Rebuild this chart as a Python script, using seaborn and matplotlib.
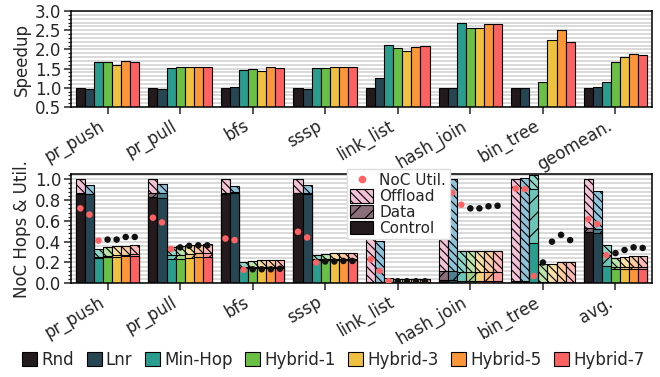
import numpy as np
import pandas as pd
import matplotlib
matplotlib.use("Agg")
import matplotlib.pyplot as plt
from matplotlib.ticker import AutoMinorLocator, MultipleLocator
from matplotlib.patches import Patch
from matplotlib.lines import Line2D
import seaborn as sns

# ---------------------------------------------------------------- data
methods = ["Rnd", "Lnr", "Min-Hop", "Hybrid-1", "Hybrid-3", "Hybrid-5", "Hybrid-7"]
speedup_labels = ["pr_push", "pr_pull", "bfs", "sssp", "link_list", "hash_join", "bin_tree", "geomean."]
traffic_labels = ["pr_push", "pr_pull", "bfs", "sssp", "link_list", "hash_join", "bin_tree", "avg."]

speedup = {
    "Rnd":      [1.00, 1.00, 1.00, 1.00, 1.00, 1.00, 1.00, 1.00],
    "Lnr":      [0.96, 0.98, 1.03, 0.96, 1.26, 1.00, 0.99, 1.03],
    "Min-Hop":  [1.67, 1.52, 1.46, 1.51, 2.11, 2.68, np.nan, 1.15],
    "Hybrid-1": [1.66, 1.53, 1.49, 1.51, 2.03, 2.57, 1.16, 1.66],
    "Hybrid-3": [1.60, 1.53, 1.44, 1.53, 1.96, 2.57, 2.24, 1.80],
    "Hybrid-5": [1.69, 1.55, 1.53, 1.53, 2.06, 2.65, 2.51, 1.89],
    "Hybrid-7": [1.67, 1.55, 1.52, 1.53, 2.09, 2.66, 2.18, 1.85],
}

# NoC hop breakdown (segment heights) and NoC utilisation
control = {
    "Rnd":      [0.860, 0.830, 0.860, 0.865, 0.005, 0.030, 0.015, 0.490],
    "Lnr":      [0.855, 0.820, 0.870, 0.860, 0.005, 0.030, 0.015, 0.485],
    "Min-Hop":  [0.240, 0.230, 0.150, 0.220, 0.005, 0.020, 0.390, 0.165],
    "Hybrid-1": [0.250, 0.235, 0.150, 0.220, 0.005, 0.020, 0.005, 0.140],
    "Hybrid-3": [0.255, 0.245, 0.150, 0.220, 0.005, 0.020, 0.005, 0.140],
    "Hybrid-5": [0.260, 0.250, 0.150, 0.220, 0.005, 0.020, 0.005, 0.140],
    "Hybrid-7": [0.265, 0.255, 0.150, 0.220, 0.005, 0.020, 0.005, 0.140],
}
data_hops = {
    "Rnd":      [0.005, 0.040, 0.005, 0.005, 0.005, 0.090, 0.005, 0.040],
    "Lnr":      [0.005, 0.045, 0.005, 0.005, 0.005, 0.090, 0.005, 0.035],
    "Min-Hop":  [0.015, 0.040, 0.010, 0.010, 0.010, 0.090, 0.520, 0.105],
    "Hybrid-1": [0.015, 0.040, 0.010, 0.010, 0.010, 0.090, 0.010, 0.015],
    "Hybrid-3": [0.015, 0.040, 0.010, 0.010, 0.010, 0.090, 0.010, 0.015],
    "Hybrid-5": [0.015, 0.040, 0.010, 0.010, 0.010, 0.090, 0.010, 0.015],
    "Hybrid-7": [0.015, 0.040, 0.010, 0.010, 0.010, 0.090, 0.010, 0.015],
}
offload = {
    "Rnd":      [0.135, 0.130, 0.135, 0.130, 0.460, 0.880, 0.980, 0.470],
    "Lnr":      [0.085, 0.085, 0.060, 0.075, 0.400, 0.880, 0.990, 0.365],
    "Min-Hop":  [0.075, 0.075, 0.040, 0.045, 0.035, 0.200, 0.130, 0.095],
    "Hybrid-1": [0.080, 0.080, 0.055, 0.050, 0.030, 0.200, 0.170, 0.090],
    "Hybrid-3": [0.090, 0.085, 0.065, 0.060, 0.030, 0.200, 0.175, 0.100],
    "Hybrid-5": [0.085, 0.080, 0.065, 0.060, 0.030, 0.200, 0.185, 0.110],
    "Hybrid-7": [0.085, 0.080, 0.065, 0.060, 0.030, 0.200, 0.185, 0.105],
}
noc_util = {
    "Rnd":      [0.720, 0.630, 0.430, 0.495, 0.230, 0.870, 0.910, 0.615],
    "Lnr":      [0.660, 0.585, 0.415, 0.440, 0.120, 0.870, 0.905, 0.570],
    "Min-Hop":  [0.410, 0.330, 0.130, 0.200, 0.020, 0.755, 0.070, 0.270],
    "Hybrid-1": [0.420, 0.345, 0.135, 0.210, 0.020, 0.720, 0.200, 0.290],
    "Hybrid-3": [0.420, 0.360, 0.135, 0.210, 0.020, 0.720, 0.400, 0.320],
    "Hybrid-5": [0.445, 0.365, 0.135, 0.215, 0.020, 0.740, 0.465, 0.345],
    "Hybrid-7": [0.445, 0.365, 0.140, 0.215, 0.020, 0.745, 0.415, 0.340],
}

# ---------------------------------------------------------------- colours
main_colors = ["#231a1e", "#264653", "#2a9d8f", "#6abf45", "#f0c040", "#fb963a", "#fc6262"]
data_colors = ["#8a6f7a", "#4f7f91", "#6cc5b6", "#a0d585", "#f5d27e", "#fcb67a", "#fd9a9a"]
offload_colors = ["#f4c2d6", "#8ec3d9", "#8fd8c9", "#bde4a8", "#f8dea2", "#fdcba0", "#fdb8b8"]
util_red = "#ff6262"

# ---------------------------------------------------------------- frames
rows = []
for m in methods:
    for i, b in enumerate(traffic_labels):
        c, d, o = control[m][i], data_hops[m][i], offload[m][i]
        rows.append(dict(bench=b, method=m, control=c, ctrl_data=c + d,
                         total=c + d + o, util=noc_util[m][i],
                         speedup=speedup[m][i], sp_bench=speedup_labels[i]))
df = pd.DataFrame(rows)

# ---------------------------------------------------------------- style
sns.set_style("ticks")
plt.rcParams.update({
    "font.family": ["DejaVu Sans"],
    "font.size": 12,
    "axes.linewidth": 1.1,
    "hatch.linewidth": 0.8,
    "xtick.major.width": 1.1,
    "ytick.major.width": 1.1,
    "ytick.minor.width": 0.9,
    "xtick.major.size": 5,
    "ytick.major.size": 5,
    "ytick.minor.size": 2.5,
})

fig = plt.figure(figsize=(6.6, 3.77), dpi=100)
ax1 = fig.add_axes([0.108, 0.7162, 0.8795, 0.2546])
ax2 = fig.add_axes([0.108, 0.2485, 0.8795, 0.2900])

bar_kw = dict(hue="method", hue_order=methods, width=0.875, saturation=1,
              errorbar=None, edgecolor="black", linewidth=0.8, legend=False)

# ---------------------------------------------------------------- speedup
sns.barplot(data=df, x="sp_bench", y="speedup", order=speedup_labels,
            palette=main_colors, ax=ax1, zorder=2, **bar_kw)
ax1.set_ylim(0.5, 3.0)
ax1.set_xlim(-0.5, 7.5)
ax1.yaxis.set_major_locator(MultipleLocator(0.5))
ax1.yaxis.set_minor_locator(AutoMinorLocator(5))
ax1.set_ylabel("Speedup", fontsize=12, labelpad=3)
ax1.set_xlabel("")

# ---------------------------------------------------------------- NoC hops
layers = [("total", offload_colors, "\\\\\\\\"),
          ("ctrl_data", data_colors, "//"),
          ("control", main_colors, None)]
bar_centers = None
for col, pal, hatch in layers:
    sns.barplot(data=df, x="bench", y=col, order=traffic_labels,
                palette=pal, ax=ax2, zorder=2, **bar_kw)
    conts = ax2.containers[-len(methods):]
    if bar_centers is None:
        bar_centers = {m: [p.get_x() + p.get_width() / 2 for p in cont]
                       for m, cont in zip(methods, conts)}
    if hatch:
        for cont in conts:
            for p in cont:
                p.set_hatch(hatch)

df["xpos"] = [bar_centers[m][traffic_labels.index(b)]
              for m, b in zip(df["method"], df["bench"])]
df["dot"] = np.where(df["method"].isin(["Rnd", "Lnr", "Min-Hop"]), "base", "hybrid")
sns.scatterplot(data=df, x="xpos", y="util", hue="dot",
                palette={"base": util_red, "hybrid": "#111111"},
                s=22, linewidth=0, ax=ax2, zorder=4, legend=False)

ax2.set_ylim(0, 1.05)
ax2.set_xlim(-0.5, 7.5)
ax2.yaxis.set_major_locator(MultipleLocator(0.2))
ax2.yaxis.set_minor_locator(AutoMinorLocator(5))
ax2.set_ylabel("NoC Hops & Util.", fontsize=12, labelpad=3)
ax2.set_xlabel("")

for ax, labels in ((ax1, speedup_labels), (ax2, traffic_labels)):
    ax.set_xticks(range(len(labels)))
    ax.set_xticklabels(labels, rotation=30, ha="right", fontsize=12)
    ax.tick_params(axis="y", labelsize=12, pad=2)
    ax.tick_params(axis="x", pad=2)
    ax.set_axisbelow(True)
    ax.grid(axis="y", which="both", color="#d0d0d0", linewidth=1.1, zorder=0)
    ax.grid(axis="x", visible=False)
    for s in ax.spines.values():
        s.set_visible(True)
        s.set_color("black")

# ---------------------------------------------------------------- legends
breakdown_handles = [
    Line2D([], [], marker="o", linestyle="none", color=util_red, markersize=4.5,
           label="NoC Util."),
    Patch(facecolor=offload_colors[0], edgecolor="black", hatch="\\\\\\\\",
          linewidth=0.8, label="Offload"),
    Patch(facecolor=data_colors[0], edgecolor="black", hatch="//",
          linewidth=0.8, label="Data"),
    Patch(facecolor=main_colors[0], edgecolor="black", linewidth=0.8,
          label="Control"),
]
leg2 = ax2.legend(handles=breakdown_handles, loc="upper left",
                  bbox_to_anchor=(0.525, 0.551), bbox_transform=fig.transFigure,
                  fontsize=11, labelspacing=0.05, handletextpad=0.4,
                  handlelength=1.5, handleheight=1.0, borderpad=0.25,
                  borderaxespad=0, frameon=True, fancybox=False)
leg2.get_frame().set_edgecolor("#dddddd")
leg2.get_frame().set_alpha(1)
leg2.set_zorder(10)

method_handles = [Patch(facecolor=c, edgecolor="black", linewidth=0.8, label=m)
                  for m, c in zip(methods, main_colors)]
fig.legend(handles=method_handles, loc="center", bbox_to_anchor=(0.505, 0.045),
           ncol=7, fontsize=12, frameon=False, handlelength=0.9,
           handleheight=0.9, handletextpad=0.25, columnspacing=0.75,
           borderaxespad=0)

fig.savefig("out.png", dpi=100)
